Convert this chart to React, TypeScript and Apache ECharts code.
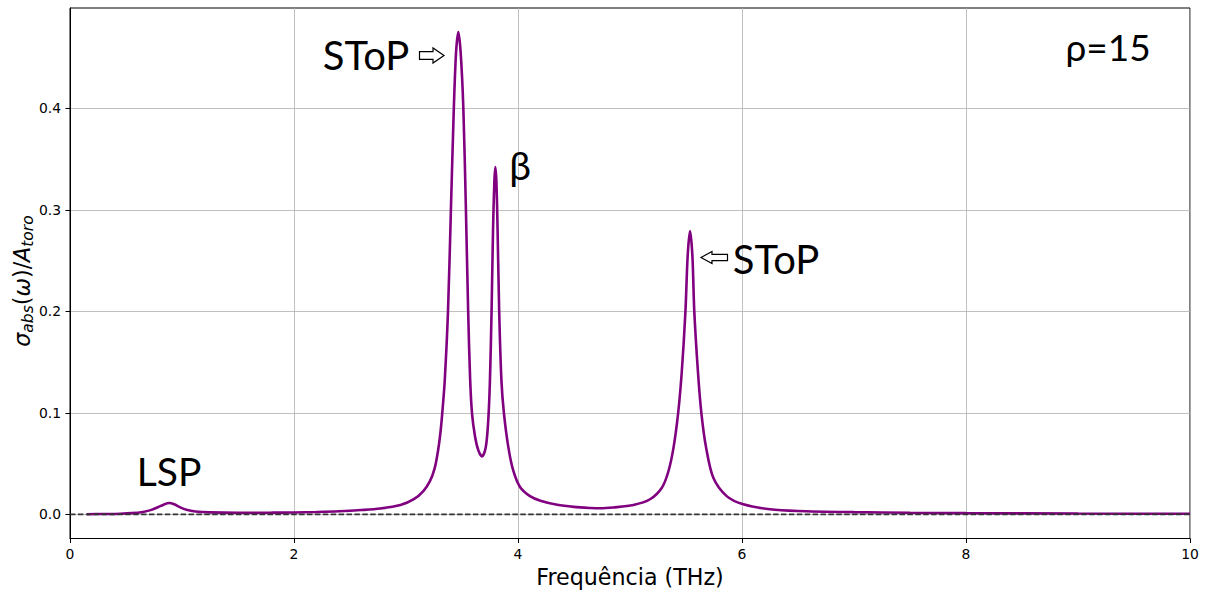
import React, { useEffect, useRef } from "react";
import * as echarts from "echarts";

const freq = [
  0.15, 0.3, 0.45, 0.55, 0.65, 0.72, 0.78, 0.84, 0.885, 0.93, 0.98, 1.04, 1.12, 1.25, 1.5, 1.8, 2.0, 2.2, 2.4, 2.6,
  2.77, 2.95, 3.07, 3.155, 3.215, 3.255, 3.285, 3.307, 3.324, 3.346, 3.375, 3.401, 3.427, 3.447, 3.467, 3.488, 3.512,
  3.535, 3.555, 3.572, 3.589, 3.616, 3.646, 3.679, 3.712, 3.733, 3.749, 3.764, 3.777, 3.789, 3.798, 3.807, 3.816,
  3.832, 3.852, 3.874, 3.914, 3.958, 4.018, 4.107, 4.2, 4.35, 4.5, 4.65, 4.73, 4.85, 5.03, 5.179, 5.283, 5.342,
  5.389, 5.43, 5.462, 5.495, 5.515, 5.536, 5.557, 5.574, 5.607, 5.637, 5.679, 5.744, 5.863, 6.012, 6.25, 6.5, 7.0,
  7.5, 8.0, 9.0, 10.0,
];
const sigma = [
  0.0002, 0.0004, 0.0007, 0.0012, 0.0024, 0.0042, 0.0068, 0.0098, 0.0112, 0.01, 0.0072, 0.0046, 0.0029, 0.002,
  0.0016, 0.0017, 0.0019, 0.0024, 0.0031, 0.0043, 0.0058, 0.0092, 0.015, 0.023, 0.033, 0.045, 0.062, 0.08, 0.1,
  0.132, 0.2, 0.3, 0.4, 0.455, 0.475, 0.455, 0.4, 0.3, 0.2, 0.135, 0.1, 0.077, 0.063, 0.057, 0.066, 0.09, 0.13,
  0.2, 0.28, 0.328, 0.342, 0.328, 0.29, 0.2, 0.132, 0.1, 0.066, 0.043, 0.027, 0.018, 0.0135, 0.0095, 0.0074, 0.0063,
  0.006, 0.0068, 0.0092, 0.0149, 0.026, 0.042, 0.066, 0.1, 0.14, 0.2, 0.255, 0.279, 0.255, 0.2, 0.14, 0.1, 0.066,
  0.036, 0.018, 0.0099, 0.005, 0.0033, 0.0022, 0.0016, 0.0012, 0.0008, 0.0006,
];
const xTicks = [0, 2, 4, 6, 8, 10];
const yTicks = [0.0, 0.1, 0.2, 0.3, 0.4];
const zeroLine = [[0, 0], [10, 0]];

const mathFont = "'DejaVu Sans', sans-serif";
const annFont = "Lato, 'Open Sans', sans-serif";

export default function App() {
  const ref = useRef<HTMLDivElement>(null);
  useEffect(() => {
    if (!ref.current) return;
    const chart = echarts.init(ref.current, undefined, { renderer: "svg" });
    const annText = (text: string, x: number, y: number, size: number) => ({
      type: "text",
      x,
      y,
      z: 100,
      style: {
        text,
        fill: "#000",
        font: `${size}px ${annFont}`,
        align: "center",
        verticalAlign: "middle",
      },
    });
    chart.setOption({
      animation: false,
      backgroundColor: "#fff",
      grid: {
        left: 70,
        right: 17,
        top: 8,
        bottom: 55.5,
        show: true,
        borderColor: "#000",
        borderWidth: 1,
        backgroundColor: "transparent",
      },
      xAxis: {
        type: "value",
        min: 0,
        max: 10,
        interval: 2,
        name: "Frequência (THz)",
        nameLocation: "middle",
        nameGap: 27,
        nameTextStyle: { fontFamily: mathFont, fontSize: 22.2, color: "#000" },
        axisLine: { show: true, onZero: false, lineStyle: { color: "#000", width: 1 } },
        axisTick: { show: true, inside: false, length: 4.5, lineStyle: { color: "#000", width: 1 }, customValues: xTicks },
        axisLabel: {
          customValues: xTicks,
          margin: 8,
          fontFamily: mathFont,
          fontSize: 13.9,
          color: "#000",
          formatter: (v: number) => String(v),
        },
        splitLine: { show: true, lineStyle: { color: "#b0b0b0", width: 0.8 } },
      },
      yAxis: {
        type: "value",
        min: -0.02375,
        max: 0.49875,
        axisLine: { show: true, onZero: false, lineStyle: { color: "#000", width: 1 } },
        axisTick: { show: true, inside: false, length: 4.5, lineStyle: { color: "#000", width: 1 }, customValues: yTicks },
        axisLabel: {
          customValues: yTicks,
          margin: 9,
          fontFamily: mathFont,
          fontSize: 13.9,
          color: "#000",
          formatter: (v: number) => v.toFixed(1),
        },
        splitLine: { show: true, lineStyle: { color: "#b0b0b0", width: 0.8 } },
      },
      series: [
        {
          type: "line",
          data: freq.map((f, i) => [f, sigma[i]]),
          symbol: "none",
          smooth: 0.3,
          lineStyle: { color: "#800080", width: 2.6 },
          z: 2,
        },
        {
          type: "line",
          data: zeroLine,
          symbol: "none",
          lineStyle: { color: "#333333", width: 1.9, type: [5.5, 2.4] },
          z: 3,
        },
      ],
      graphic: [
        {
          type: "text",
          x: 22,
          y: 281,
          rotation: Math.PI / 2,
          z: 100,
          style: {
            text: "{i|σ}{s|abs}{n|(}{i|ω}{n|)/}{i|A}{s|toro}",
            align: "center",
            verticalAlign: "middle",
            fill: "#000",
            rich: {
              i: { fontFamily: mathFont, fontStyle: "italic", fontSize: 22.2, lineHeight: 28, fill: "#000" },
              n: { fontFamily: mathFont, fontSize: 22.2, lineHeight: 28, fill: "#000" },
              s: {
                fontFamily: mathFont,
                fontStyle: "italic",
                fontSize: 15.5,
                lineHeight: 16,
                verticalAlign: "bottom",
                fill: "#000",
              },
            },
          },
        },
        annText("SToP", 366, 55, 40),
        {
          type: "polygon",
          z: 100,
          shape: {
            points: [
              [419.5, 51.7],
              [433, 51.7],
              [433, 48],
              [444, 55.5],
              [433, 63],
              [433, 59.3],
              [419.5, 59.3],
            ],
          },
          style: { fill: "#fff", stroke: "#000", lineWidth: 1.2 },
        },
        annText("β", 520, 165, 39),
        {
          type: "polygon",
          z: 100,
          shape: {
            points: [
              [701, 257.5],
              [712, 251.5],
              [712, 254.3],
              [727.5, 254.3],
              [727.5, 260.7],
              [712, 260.7],
              [712, 263.5],
            ],
          },
          style: { fill: "#fff", stroke: "#000", lineWidth: 1.2 },
        },
        annText("SToP", 776, 259, 40),
        annText("LSP", 169, 471, 39),
        annText("ρ=15", 1108, 46, 37),
      ],
    });
    return () => chart.dispose();
  }, []);
  return <div ref={ref} style={{ position: "absolute", left: 0, top: 0, width: 1207, height: 594 }} />;
}
